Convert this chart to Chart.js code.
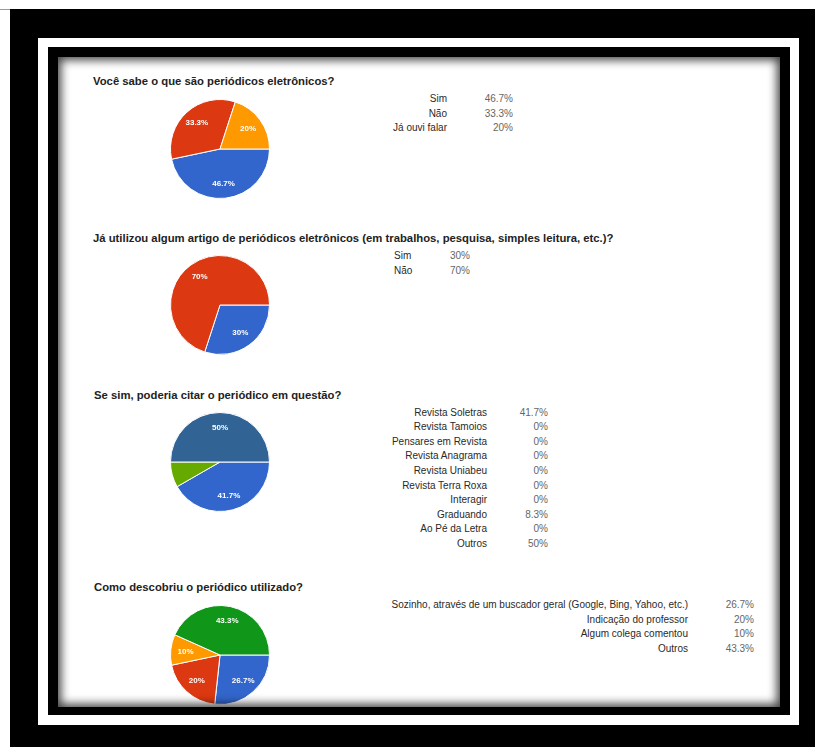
<!DOCTYPE html>
<html>
<head>
<meta charset="utf-8">
<script src="https://cdn.jsdelivr.net/npm/chart.js@4.4.0/dist/chart.umd.min.js"></script>
<style>
  body { margin: 0; background: #fff; font-family: "Liberation Sans", Arial, sans-serif; }
  .box { position: absolute; }
  .title { position: absolute; font-size: 11.3px; font-weight: bold; color: #222; white-space: nowrap; line-height: 14px; }
  .row { position: absolute; font-size: 10px; line-height: 14px; white-space: nowrap; }
  .lab { color: #2a2a2a; }
  .val { color: #666; }
  canvas { position: absolute; }
</style>
</head>
<body>
<div class="box" style="left:0;top:0;width:815px;height:9px;border-bottom:1px solid #999;"></div>
<div class="box" style="left:10px;top:9px;width:805px;height:738px;background:#000;"></div>
<div class="box" style="left:38px;top:38px;width:761px;height:687px;background:#fff;"></div>
<div class="box" style="left:48px;top:47px;width:742px;height:668px;background:#000;"></div>
<div class="box" id="page" style="left:58px;top:57px;width:722px;height:650px;background:#fff;"></div>
<div id="charts"></div>
<div class="box" style="left:58px;top:57px;width:722px;height:650px;box-shadow:inset 0 0 10px 3px rgba(0,0,0,0.75);pointer-events:none;"></div>

<script>
// Google Forms palette
var palette = ["#3366cc", "#dc3912", "#ff9900", "#109618", "#990099", "#0099c6", "#dd4477", "#66aa00", "#b82e2e", "#316395"];

var title1 = "Você sabe o que são periódicos eletrônicos?";
var labels1 = ["Sim", "Não", "Já ouvi falar"];
var values1 = [46.7, 33.3, 20];

var title2 = "Já utilizou algum artigo de periódicos eletrônicos (em trabalhos, pesquisa, simples leitura, etc.)?";
var labels2 = ["Sim", "Não"];
var values2 = [30, 70];

var title3 = "Se sim, poderia citar o periódico em questão?";
var labels3 = ["Revista Soletras", "Revista Tamoios", "Pensares em Revista", "Revista Anagrama", "Revista Uniabeu",
  "Revista Terra Roxa", "Interagir", "Graduando", "Ao Pé da Letra", "Outros"];
var values3 = [41.7, 0, 0, 0, 0, 0, 0, 8.3, 0, 50];

var title4 = "Como descobriu o periódico utilizado?";
var labels4 = ["Sozinho, através de um buscador geral (Google, Bing, Yahoo, etc.)", "Indicação do professor", "Algum colega comentou", "Outros"];
var values4 = [26.7, 20, 10, 43.3];

// layout of each block (title, pie centre, legend columns)
var blocks = [
  { title: title1, labels: labels1, values: values1, tx: 93, ty: 81, cx: 220, cy: 149, labRight: 447, valRight: 513, rowY: 99, align: "right" },
  { title: title2, labels: labels2, values: values2, tx: 93, ty: 238, cx: 220, cy: 305, labLeft: 394, valRight: 470, rowY: 256, align: "left" },
  { title: title3, labels: labels3, values: values3, tx: 94, ty: 395, cx: 220, cy: 462, labRight: 487, valRight: 548, rowY: 412.5, align: "right" },
  { title: title4, labels: labels4, values: values4, tx: 94, ty: 587, cx: 220, cy: 655, labRight: 688, valRight: 754, rowY: 605, align: "right" }
];
var rowStep = 14.6;

// white percentage text inside the slices
var sliceText = {
  id: "sliceText",
  afterDatasetsDraw: function(chart) {
    var ctx = chart.ctx;
    var vals = chart.data.datasets[0].data;
    ctx.save();
    ctx.fillStyle = "#fff";
    ctx.font = "bold 8px 'Liberation Sans', Arial";
    ctx.textAlign = "center";
    ctx.textBaseline = "middle";
    chart.getDatasetMeta(0).data.forEach(function(arc, i) {
      if (vals[i] < 10) return;
      var p = arc.getProps(["x", "y", "startAngle", "endAngle", "outerRadius"], true);
      var mid = (p.startAngle + p.endAngle) / 2;
      var r = p.outerRadius * 0.7;
      ctx.fillText(vals[i] + "%", p.x + Math.cos(mid) * r, p.y + Math.sin(mid) * r);
    });
    ctx.restore();
  }
};

var holder = document.getElementById("charts");
var size = 100;

blocks.forEach(function(b, n) {
  var t = document.createElement("div");
  t.className = "title";
  t.style.left = b.tx + "px";
  t.style.top = (b.ty - 7) + "px";
  t.textContent = b.title;
  holder.appendChild(t);

  b.labels.forEach(function(l, i) {
    var y = b.rowY + i * rowStep - 7;
    var lab = document.createElement("div");
    lab.className = "row lab";
    lab.style.top = y + "px";
    if (b.align == "right") {
      lab.style.right = (815 - b.labRight) + "px";
    } else {
      lab.style.left = b.labLeft + "px";
    }
    lab.textContent = l;
    holder.appendChild(lab);

    var val = document.createElement("div");
    val.className = "row val";
    val.style.top = y + "px";
    val.style.right = (815 - b.valRight) + "px";
    val.textContent = b.values[i] + "%";
    holder.appendChild(val);
  });

  var c = document.createElement("canvas");
  c.width = size;
  c.height = size;
  c.style.left = (b.cx - size / 2) + "px";
  c.style.top = (b.cy - size / 2) + "px";
  holder.appendChild(c);

  new Chart(c, {
    type: "pie",
    data: {
      labels: b.labels,
      datasets: [{
        data: b.values,
        backgroundColor: palette.slice(0, b.values.length),
        borderColor: "#fff",
        borderWidth: 1
      }]
    },
    options: {
      responsive: false,
      animation: false,
      rotation: 90,
      layout: { padding: 0 },
      plugins: { legend: { display: false }, tooltip: { enabled: false } }
    },
    plugins: [sliceText]
  });
});
</script>
</body>
</html>
